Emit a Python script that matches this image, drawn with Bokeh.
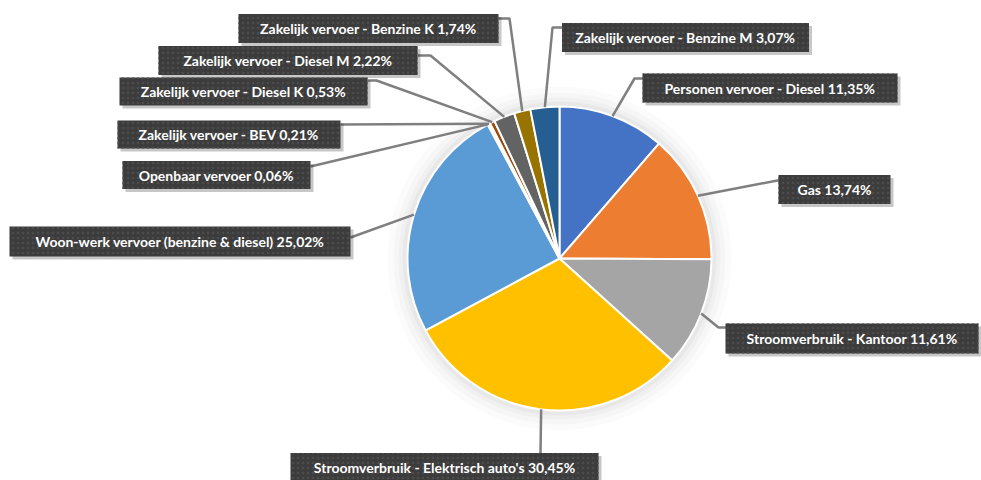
import math
from bokeh.plotting import figure
from bokeh.models import Range1d, ColumnDataSource
from bokeh.core.properties import value
from bokeh.embed import file_html
from bokeh.resources import INLINE

# ---- data ----
categories = [
    "Personen vervoer - Diesel",
    "Gas",
    "Stroomverbruik - Kantoor",
    "Stroomverbruik - Elektrisch auto's",
    "Woon-werk vervoer (benzine & diesel)",
    "Openbaar vervoer",
    "Zakelijk vervoer - BEV",
    "Zakelijk vervoer - Diesel K",
    "Zakelijk vervoer - Diesel M",
    "Zakelijk vervoer - Benzine K",
    "Zakelijk vervoer - Benzine M",
]
percentages = [11.35, 13.74, 11.61, 30.45, 25.02, 0.06, 0.21, 0.53, 2.22, 1.74, 3.07]
colors = ["#4472C4", "#ED7D31", "#A5A5A5", "#FFC000", "#5B9BD5", "#70AD47",
          "#264478", "#9E480E", "#636363", "#997300", "#255E91"]

# ---- layout (pixel positions, y measured from top) ----
W, H = 981, 480
CX, CY, R = 559, 258, 152
# label box: centre x, centre y, width, height
boxes = [
    (769.5, 87.5, 255, 29),
    (834, 189, 112, 29),
    (851.5, 338, 253, 30),
    (444, 467, 308, 29),
    (179.5, 241, 341, 30),
    (216, 174.5, 188, 28),
    (228.5, 134, 223, 28),
    (243, 91, 248, 28),
    (287.5, 60, 259, 29),
    (368, 28, 260, 29),
    (685, 37, 247, 29),
]
# leader line waypoints after the slice edge point
leader_pts = [
    [(634, 78), (643, 78)],
    [(777, 180), (779, 180)],
    [(718, 327), (726, 327)],
    [(540, 453)],
    [(350, 237)],
    [(310, 166)],
    [(340, 124)],
    [(376, 80), (367, 80)],
    [(430, 55), (417, 55)],
    [(509, 18), (498, 18)],
    [(552, 27), (562, 27)],
]

def Y(py):
    return H - py

# angles (clockwise from top)
starts, ends, mids = [], [], []
cum = 0.0
total = sum(percentages)
for v in percentages:
    a0 = math.pi / 2 - 2 * math.pi * cum / total
    a1 = math.pi / 2 - 2 * math.pi * (cum + v) / total
    starts.append(a1)
    ends.append(a0)
    mids.append((a0 + a1) / 2)
    cum += v

labels = [f"{c} {v:.2f}%".replace(".", ",") for c, v in zip(categories, percentages)]

p = figure(width=W, height=H, x_range=Range1d(0, W), y_range=Range1d(0, H),
           output_backend="svg", toolbar_location=None, min_border=0,
           outline_line_color=None, background_fill_color="white")
p.axis.visible = False
p.grid.visible = False

# soft shadow around pie
for rr, a in [(172, 0.015), (166, 0.02), (161, 0.025), (157, 0.03)]:
    p.circle(x=[CX], y=[Y(CY)], radius=rr, fill_color="#000000", fill_alpha=a, line_color=None)

src = ColumnDataSource(dict(start=starts, end=ends, color=colors))
p.wedge(x=CX, y=Y(CY), radius=R, start_angle="start", end_angle="end",
        direction="anticlock", fill_color="color", line_color="white", line_width=2, source=src)

# leader lines
xs, ys = [], []
for m, pts in zip(mids, leader_pts):
    sx = CX + R * math.cos(m)
    sy = Y(CY) + R * math.sin(m)
    xs.append([sx] + [q[0] for q in pts])
    ys.append([sy] + [Y(q[1]) for q in pts])
p.multi_line(xs=xs, ys=ys, line_color="#7F7F7F", line_width=2.5)

# label boxes with shadow
bx = [b[0] for b in boxes]
by = [Y(b[1]) for b in boxes]
bw = [b[2] for b in boxes]
bh = [b[3] for b in boxes]
p.rect(x=[v + 3 for v in bx], y=[v - 3 for v in by], width=bw, height=bh,
       fill_color="#000000", fill_alpha=0.22, line_color=None)
p.rect(x=bx, y=by, width=bw, height=bh, fill_color="#3C3C3C", line_color=None,
       hatch_pattern="dot", hatch_color="#4C4C4C", hatch_scale=5, hatch_weight=1)
p.text(x=bx, y=by, text=labels, text_align="center", text_baseline="middle",
       text_font=value("Lato"), text_font_style="bold", text_font_size="14px",
       text_color="white")

open("out.html", "w").write(file_html(p, INLINE))
